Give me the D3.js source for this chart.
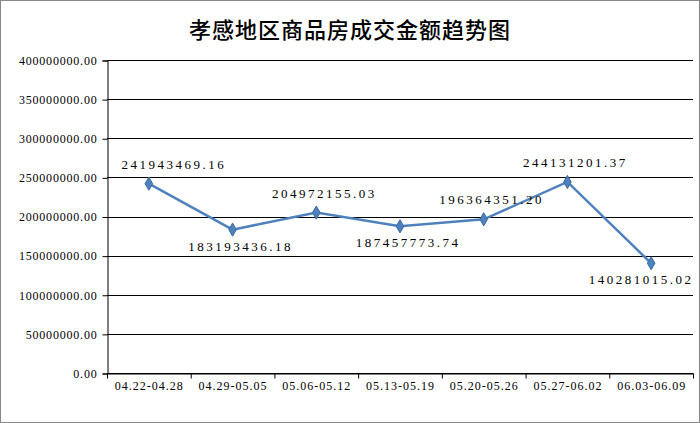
<!DOCTYPE html>
<html>
<head>
<style>
  body { margin: 0; background: #fff; }
  text { font-family: "Liberation Serif", "DejaVu Serif", serif; }
</style>
</head>
<body>
<svg id="chart"></svg>
<script src="https://cdnjs.cloudflare.com/ajax/libs/d3/7.8.5/d3.min.js"></script>
<script>
const categories = ['04.22-04.28', '04.29-05.05', '05.06-05.12', '05.13-05.19', '05.20-05.26', '05.27-06.02', '06.03-06.09'];
const amounts = [241943469.16, 183193436.18, 204972155.03, 187457773.74, 196364351.20, 244131201.37, 140281015.02];
const labelSide = ['up', 'down', 'up', 'down', 'up', 'up', 'down'];
const yTicks = [0, 50000000, 100000000, 150000000, 200000000, 250000000, 300000000, 350000000, 400000000];

const W = 700, H = 423;
const margin = { top: 60, right: 7, bottom: 50, left: 107 };

const svg = d3.select('#chart').attr('width', W).attr('height', H);

svg.append('rect').attr('x', 0.5).attr('y', 0.5).attr('width', W - 1).attr('height', H - 1)
  .attr('fill', '#fff').attr('stroke', '#888');

svg.append('text').attr('x', W / 2).attr('y', 38).attr('text-anchor', 'middle')
  .style('font-family', '"Noto Sans CJK SC", sans-serif').style('font-size', '22px').style('font-weight', '500')
  .style('letter-spacing', '1px')
  .text('孝感地区商品房成交金额趋势图');

const x = d3.scaleBand().domain(categories).range([margin.left, W - margin.right]);
const y = d3.scaleLinear().domain([0, 400000000]).range([H - margin.bottom, margin.top]);

// gridlines
svg.append('g').selectAll('line').data(yTicks).enter().append('line')
  .attr('x1', margin.left).attr('x2', W - margin.right)
  .attr('y1', d => Math.round(y(d)) + 0.5).attr('y2', d => Math.round(y(d)) + 0.5)
  .attr('stroke', '#000').attr('stroke-width', 1);

// y axis
const yAxis = svg.append('g').attr('transform', `translate(${margin.left + 0.5},0.5)`)
  .call(d3.axisLeft(y).tickValues(yTicks).tickSize(5).tickPadding(5).tickFormat(d => d.toFixed(2)));
yAxis.selectAll('text').style('font-size', '12px').style('letter-spacing', '0.8px').attr('fill', '#000');
yAxis.select('.domain').attr('stroke', '#000');

// x axis
const xAxis = svg.append('g').attr('transform', `translate(0.5,${H - margin.bottom + 0.5})`)
  .call(d3.axisBottom(x).tickSize(0).tickPadding(8));
xAxis.selectAll('text').style('font-size', '12px').style('letter-spacing', '1px').attr('fill', '#000');
xAxis.select('.domain').attr('stroke', '#000');
xAxis.selectAll('.sep').data(categories.concat([null])).enter().append('line')
  .attr('x1', (d, i) => margin.left + i * x.bandwidth()).attr('x2', (d, i) => margin.left + i * x.bandwidth())
  .attr('y1', 0).attr('y2', 5).attr('stroke', '#000');

const pts = amounts.map((v, i) => ({ cat: categories[i], v, side: labelSide[i] }));
const line = d3.line().x(d => x(d.cat) + x.bandwidth() / 2).y(d => y(d.v));

svg.append('path').datum(pts).attr('d', line).attr('fill', 'none')
  .attr('stroke', '#4f81bd').attr('stroke-width', 2.5);

svg.append('g').selectAll('path').data(pts).enter().append('path')
  .attr('d', d3.symbol().type(d3.symbolDiamond).size(50))
  .attr('transform', d => `translate(${x(d.cat) + x.bandwidth() / 2},${y(d.v)})`)
  .attr('fill', '#4f81bd').attr('stroke', '#3a6aa5');

svg.append('g').selectAll('text').data(pts).enter().append('text')
  .attr('x', (d, i) => x(d.cat) + x.bandwidth() / 2 + (i === 0 ? 25 : i === pts.length - 1 ? -10 : 8))
  .attr('y', d => y(d.v) + (d.side === 'up' ? -15 : 21))
  .attr('text-anchor', 'middle').style('font-size', '13px').style('letter-spacing', '2.5px').attr('fill', '#000')
  .text(d => d.v.toFixed(2));
</script>
</body>
</html>
